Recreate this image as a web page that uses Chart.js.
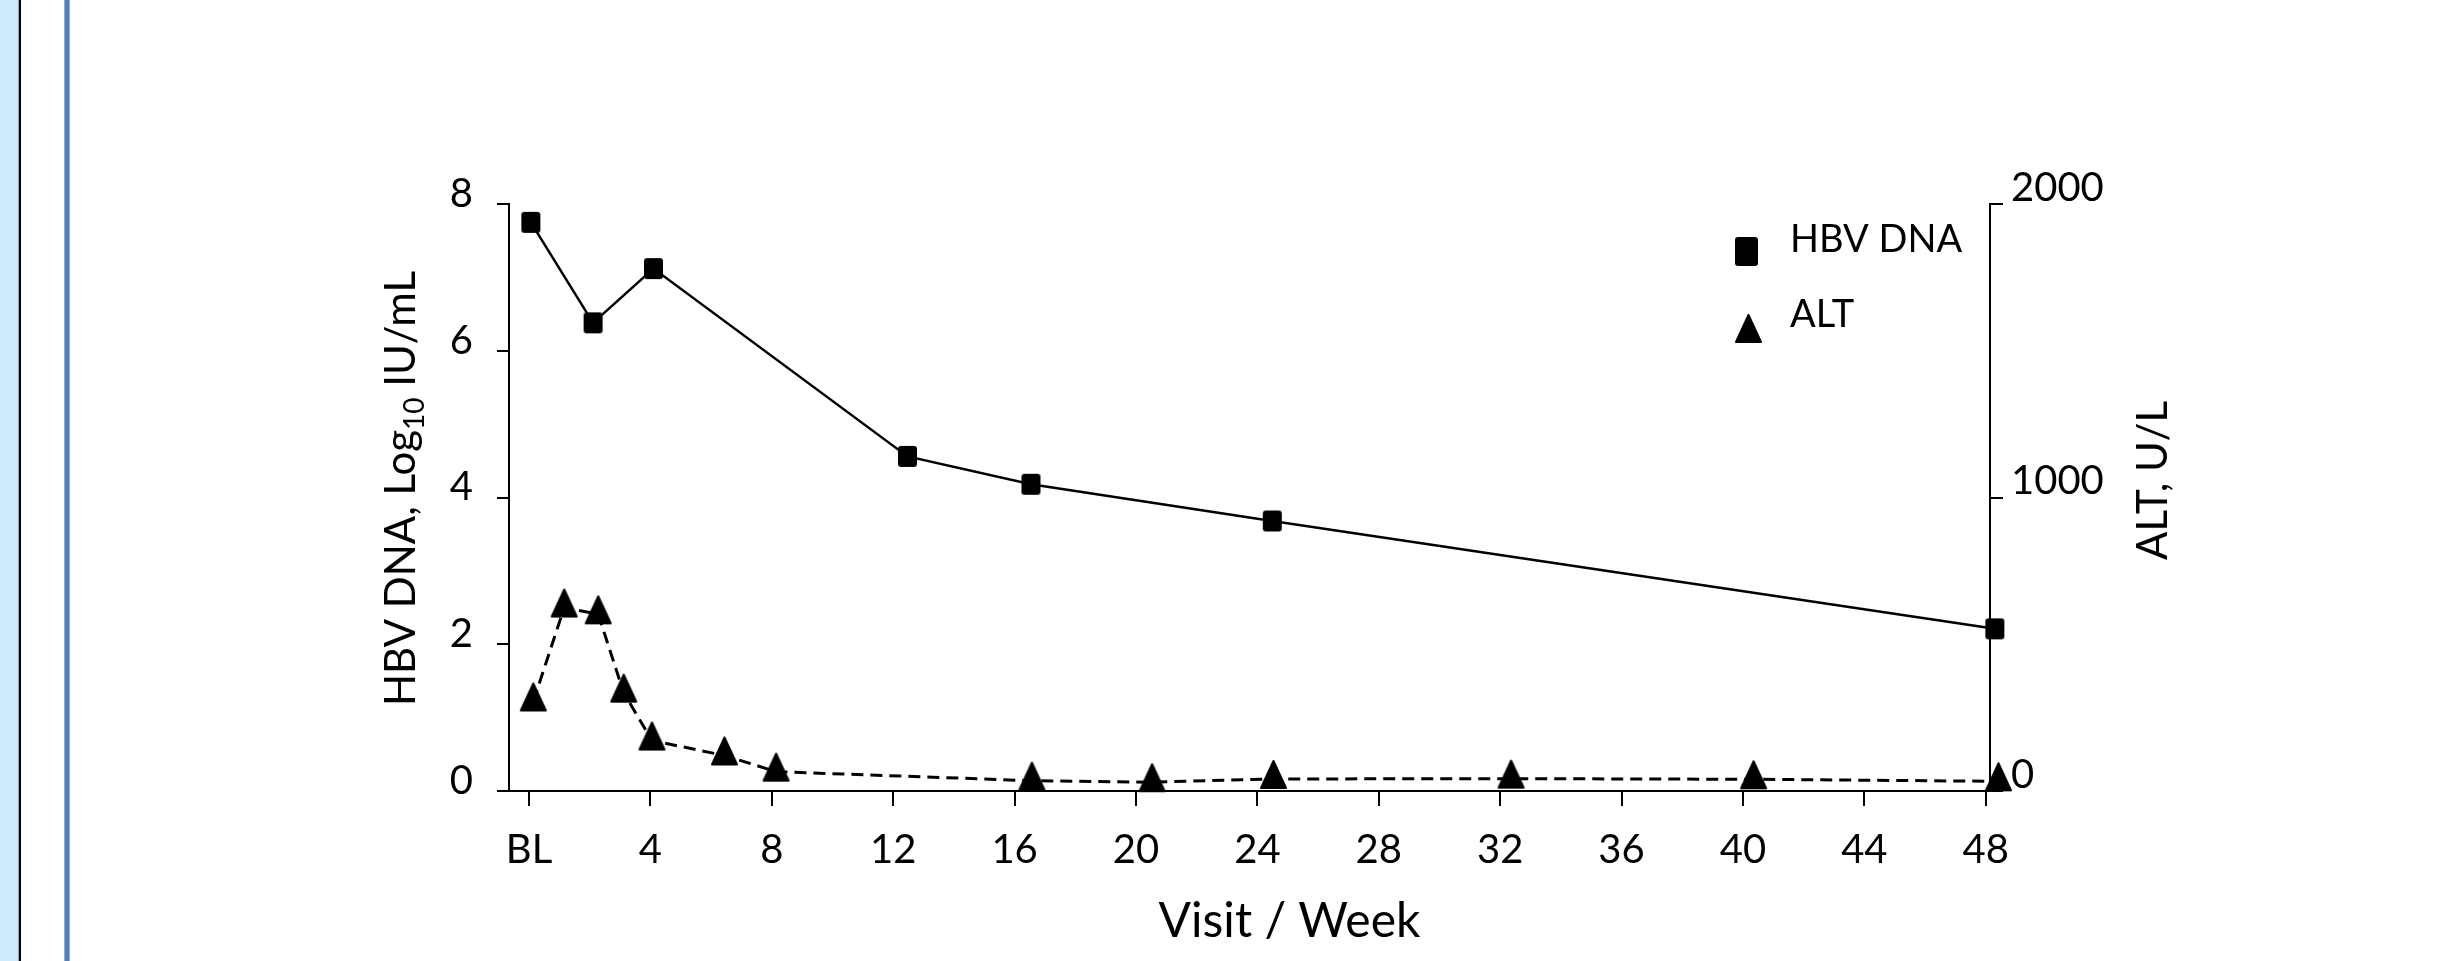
<!DOCTYPE html>
<html>
<head>
<meta charset="utf-8">
<title>HBV DNA and ALT by visit</title>
<script src="https://cdn.jsdelivr.net/npm/chart.js@4.4.1/dist/chart.umd.min.js"></script>
<style>
    html, body {
        margin: 0;
        padding: 0;
        background: #ffffff;
        width: 2444px;
        height: 961px;
        overflow: hidden;
    }
    .band {
        position: absolute;
        top: 0;
        left: 0;
        width: 18px;
        height: 961px;
        background: #cdebfc;
        border-right: 1px solid #9aa9b3;
    }
    .edge {
        position: absolute;
        top: 0;
        left: 19px;
        width: 2px;
        height: 961px;
        background: #000000;
    }
    .rule {
        position: absolute;
        top: 0;
        left: 64px;
        width: 4px;
        height: 961px;
        background: #4f81bd;
        border-left: 1px solid #8eaad0;
        border-right: 1px solid #8eaad0;
    }
    #chartBox {
        position: absolute;
        top: 0;
        left: 0;
    }
</style>
</head>
<body>
<div class="band"></div>
<div class="edge"></div>
<div class="rule"></div>
<canvas id="chartBox" width="2444" height="961"></canvas>

<script>
// values (weeks since baseline)
const dnaWeeks = [0.06, 2.11, 4.1, 12.47, 16.54, 24.49, 48.3];
const dnaValues = [7.75, 6.38, 7.12, 4.56, 4.18, 3.68, 2.21];

const altWeeks = [0.14, 1.16, 2.28, 3.12, 4.05, 6.44, 8.14, 16.57, 20.53, 24.53, 32.36, 40.35, 48.42];
const altValues = [305, 625, 602, 335, 172, 121, 66, 35, 30, 41, 42, 40, 33];

const weekTicks = [0, 4, 8, 12, 16, 20, 24, 28, 32, 36, 40, 44, 48];
const weekLabels = ['BL', '4', '8', '12', '16', '20', '24', '28', '32', '36', '40', '44', '48'];
const dnaTicks = [0, 2, 4, 6, 8];
const altTicks = [0, 1000, 2000];

const seriesNames = ['HBV DNA', 'ALT'];

Chart.defaults.font.family = 'Lato';
Chart.defaults.color = '#000';

function roundedRectPath(g, x, y, w, h, r) {
    g.beginPath();
    g.moveTo(x + r, y);
    g.arcTo(x + w, y, x + w, y + h, r);
    g.arcTo(x + w, y + h, x, y + h, r);
    g.arcTo(x, y + h, x, y, r);
    g.arcTo(x, y, x + w, y, r);
    g.closePath();
}

// square marker, centred on the point
function makeSquareMarker(w, h) {
    let c = document.createElement('canvas');
    c.width = w + 2;
    c.height = h + 2;
    let g = c.getContext('2d');
    g.fillStyle = '#000';
    roundedRectPath(g, 1, 1, w, h, 3);
    g.fill();
    return c;
}

// triangle marker: apex sits "above" px over the point, base the rest below
function makeTriangleMarker(w, h, above) {
    let c = document.createElement('canvas');
    c.width = w + 4;
    c.height = above * 2 + 4;
    let g = c.getContext('2d');
    let cx = c.width / 2;
    let top = 2;
    g.fillStyle = '#000';
    g.strokeStyle = '#000';
    g.lineJoin = 'round';
    g.lineWidth = 2;
    g.beginPath();
    g.moveTo(cx, top + 1);
    g.lineTo(cx + w / 2 - 1, top + h - 1);
    g.lineTo(cx - w / 2 + 1, top + h - 1);
    g.closePath();
    g.fill();
    g.stroke();
    return c;
}

let squareMarker = makeSquareMarker(19, 21);
let triangleMarker = makeTriangleMarker(27, 29, 19);

// axis titles (left one needs a subscript, right one reads bottom-to-top) and the legend
const extraText = {
    id: 'extraText',
    afterDraw(chart) {
        let ctx = chart.ctx;
        let area = chart.chartArea;
        let midY = (area.top + area.bottom) / 2;

        // left title
        ctx.save();
        ctx.translate(area.left - 94, midY - 9);
        ctx.rotate(-Math.PI / 2);
        ctx.fillStyle = '#000';
        ctx.textBaseline = 'alphabetic';
        let big = '42px Lato';
        let small = '28px Lato';
        let partA = 'HBV DNA, Log';
        let partB = '10';
        let partC = ' IU/mL';
        ctx.font = big;
        let wA = ctx.measureText(partA).width;
        let wC = ctx.measureText(partC).width;
        ctx.font = small;
        let wB = ctx.measureText(partB).width;
        let x0 = -(wA + wB + wC) / 2;
        ctx.font = big;
        ctx.fillText(partA, x0, 0);
        ctx.font = small;
        ctx.fillText(partB, x0 + wA, 9);
        ctx.font = big;
        ctx.fillText(partC, x0 + wA + wB, 0);
        ctx.restore();

        // right title
        ctx.save();
        ctx.translate(area.right + 177, midY - 17);
        ctx.rotate(-Math.PI / 2);
        ctx.fillStyle = '#000';
        ctx.font = '42px Lato';
        ctx.textAlign = 'center';
        ctx.textBaseline = 'alphabetic';
        ctx.fillText('ALT, U/L', 0, 0);
        ctx.restore();

        // bottom title, sits a little right of the plot centre in the original
        ctx.save();
        ctx.fillStyle = '#000';
        ctx.font = '48px Lato';
        ctx.textAlign = 'center';
        ctx.textBaseline = 'alphabetic';
        ctx.fillText('Visit / Week', (area.left + area.right) / 2 + 40, area.bottom + 146);
        ctx.restore();

        // legend
        let lx = area.right - 255;
        ctx.save();
        ctx.fillStyle = '#000';
        roundedRectPath(ctx, lx, area.top + 33, 23, 29, 3);
        ctx.fill();
        ctx.beginPath();
        ctx.lineJoin = 'round';
        ctx.lineWidth = 2;
        ctx.strokeStyle = '#000';
        ctx.moveTo(lx + 13.5, area.top + 111);
        ctx.lineTo(lx + 26, area.top + 138);
        ctx.lineTo(lx + 1, area.top + 138);
        ctx.closePath();
        ctx.fill();
        ctx.stroke();
        ctx.font = '38px Lato';
        ctx.textBaseline = 'alphabetic';
        ctx.fillText(seriesNames[0], lx + 55, area.top + 48);
        ctx.fillText(seriesNames[1], lx + 55, area.top + 123);
        ctx.restore();
    }
};

let dnaPoints = dnaWeeks.map((w, i) => ({ x: w, y: dnaValues[i] }));
let altPoints = altWeeks.map((w, i) => ({ x: w, y: altValues[i] }));

let config = {
    type: 'line',
    data: {
        datasets: [{
            label: seriesNames[0],
            data: dnaPoints,
            yAxisID: 'y',
            borderColor: '#000',
            backgroundColor: '#000',
            borderWidth: 2.5,
            tension: 0,
            pointStyle: squareMarker,
            pointRadius: 11,
            clip: false
        }, {
            label: seriesNames[1],
            data: altPoints,
            yAxisID: 'y1',
            borderColor: '#000',
            backgroundColor: '#000',
            borderWidth: 3,
            borderDash: [12, 7],
            tension: 0,
            pointStyle: triangleMarker,
            pointRadius: 15,
            clip: false
        }]
    },
    options: {
        responsive: false,
        animation: false,
        events: [],
        layout: {
            padding: { top: 204, left: 0, right: 0, bottom: 0 }
        },
        plugins: {
            legend: { display: false },
            tooltip: { enabled: false }
        },
        scales: {
            x: {
                type: 'linear',
                min: -0.66,
                max: 48.14,
                afterBuildTicks: (scale) => {
                    scale.ticks = weekTicks.map(v => ({ value: v }));
                },
                afterFit: (scale) => {
                    scale.height = 170;
                },
                ticks: {
                    autoSkip: false,
                    maxRotation: 0,
                    padding: 20,
                    font: { size: 40 },
                    callback: (v) => weekLabels[weekTicks.indexOf(v)]
                },
                grid: {
                    drawOnChartArea: false,
                    drawTicks: true,
                    tickLength: 15,
                    color: '#000',
                    lineWidth: 2
                },
                border: { display: true, color: '#000', width: 2 }
            },
            y: {
                position: 'left',
                min: 0,
                max: 8,
                afterBuildTicks: (scale) => {
                    scale.ticks = dnaTicks.map(v => ({ value: v }));
                },
                afterFit: (scale) => {
                    scale.width = 509;
                },
                ticks: {
                    padding: 24,
                    labelOffset: -10,
                    font: { size: 40 },
                    callback: (v) => String(v)
                },
                grid: {
                    drawOnChartArea: false,
                    drawTicks: true,
                    tickLength: 12,
                    color: '#000',
                    lineWidth: 2
                },
                border: { display: true, color: '#000', width: 2 }
            },
            y1: {
                position: 'right',
                min: 0,
                max: 2000,
                afterBuildTicks: (scale) => {
                    scale.ticks = altTicks.map(v => ({ value: v }));
                },
                afterFit: (scale) => {
                    scale.width = 454;
                },
                ticks: {
                    padding: 8,
                    labelOffset: -16,
                    font: { size: 40 },
                    callback: (v) => String(v)
                },
                grid: {
                    drawOnChartArea: false,
                    drawTicks: true,
                    tickLength: 13,
                    color: '#000',
                    lineWidth: 2
                },
                border: { display: true, color: '#000', width: 2 }
            }
        }
    },
    plugins: [extraText]
};

let myChart = new Chart(document.getElementById('chartBox'), config);
</script>
</body>
</html>
